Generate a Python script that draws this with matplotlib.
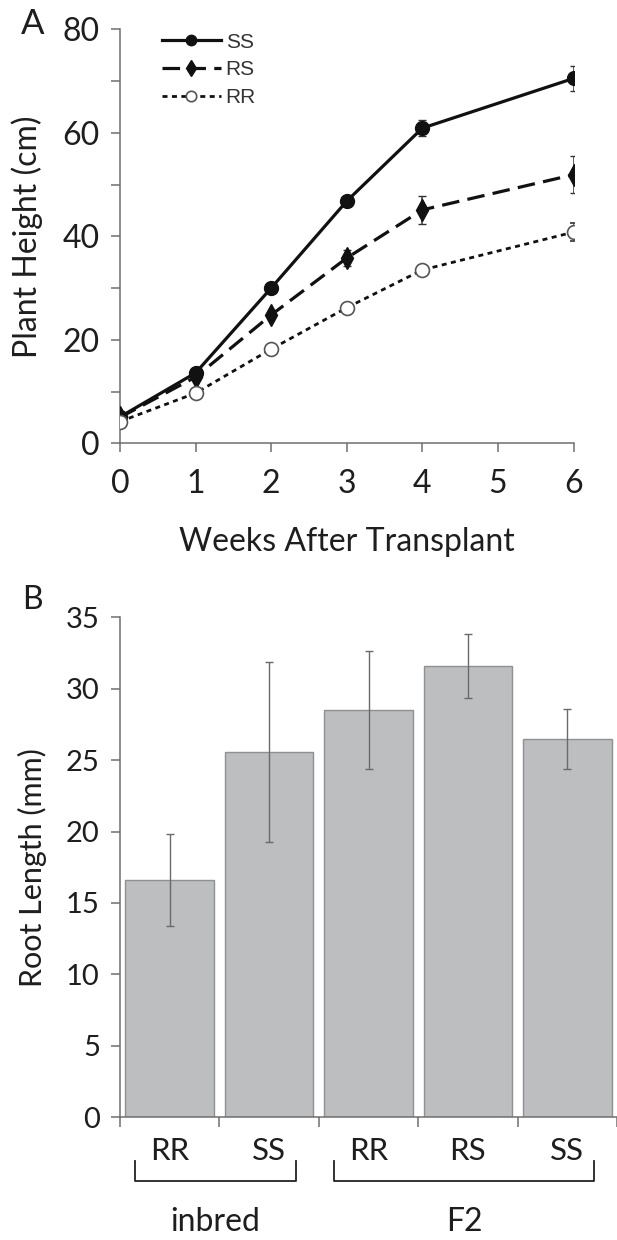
import matplotlib
matplotlib.use("Agg")
import matplotlib.pyplot as plt
import numpy as np

# panel A: plant height over time
weeks = [0, 1, 2, 3, 4, 6]
ss_height = [5.1, 13.6, 30.0, 46.8, 60.9, 70.5]
ss_err = [0.5, 0.6, 0.6, 0.7, 1.6, 2.4]
rs_height = [5.0, 12.8, 24.8, 35.8, 45.1, 51.9]
rs_err = [0.4, 0.6, 0.8, 1.5, 2.7, 3.6]
rr_height = [4.2, 9.7, 18.2, 26.2, 33.5, 40.8]
rr_err = [0.4, 0.5, 0.6, 0.6, 0.8, 1.8]

# panel B: root length
root_labels = ["RR", "SS", "RR", "RS", "SS"]
root_len = [16.6, 25.6, 28.5, 31.6, 26.5]
root_err = [3.2, 6.3, 4.15, 2.25, 2.1]
groups = [("inbred", 0, 1), ("F2", 2, 4)]

plt.rcParams["font.family"] = ["Lato", "DejaVu Sans"]
axcol = "#6f6f6f"
txtcol = "#1e1e1e"

fig = plt.figure(figsize=(6.17, 12.4), dpi=100)

# ---------- A ----------
ax = fig.add_axes([0.1945, 0.6425, 0.735, 0.3339])
c1 = ax.errorbar(weeks, ss_height, yerr=ss_err, color="#111111", lw=2.3, marker="o",
                 ms=10, mfc="#111111", mec="#111111", ecolor="#333333", elinewidth=1.1,
                 capsize=3, zorder=3)
c2 = ax.errorbar(weeks, rs_height, yerr=rs_err, color="#111111", lw=2.3, marker="d",
                 ms=11, mfc="#111111", mec="#111111", ecolor="#333333", elinewidth=1.1,
                 capsize=3, linestyle=(0, (5.5, 2.6)), zorder=3)
c3 = ax.errorbar(weeks, rr_height, yerr=rr_err, color="#111111", lw=2.0, marker="o",
                 ms=10, mfc="white", mec="#555555", mew=1.2, ecolor="#333333",
                 elinewidth=1.1, capsize=3, linestyle=(0, (1.8, 1.6)), zorder=3)

ax.set_xlim(0, 6)
ax.set_ylim(0, 80)
ax.set_xticks(range(0, 7))
ax.set_yticks([0, 20, 40, 60, 80])
ax.set_yticks([10, 30, 50, 70], minor=True)
for s in ["top", "right"]:
    ax.spines[s].set_visible(False)
for s in ["left", "bottom"]:
    ax.spines[s].set_color(axcol)
    ax.spines[s].set_linewidth(1.1)
ax.tick_params(which="both", color=axcol, width=1.1, length=6.5,
               labelsize=23, labelcolor=txtcol)
ax.tick_params(axis="y", pad=8)
ax.tick_params(axis="x", pad=12)
ax.set_xlabel("Weeks After Transplant", fontsize=23, color=txtcol, labelpad=20)
ax.set_ylabel("Plant Height (cm)", fontsize=23, color=txtcol)
ax.yaxis.set_label_coords(-0.17, 0.5)

leg = ax.legend(handles=[c1[0], c2[0], c3[0]], labels=["SS", "RS", "RR"],
                loc="upper left", bbox_to_anchor=(0.093, 0.992), frameon=False,
                prop={"family": "Liberation Sans", "size": 15},
                handlelength=2.8, handletextpad=0.25, labelspacing=0.42,
                borderpad=0, borderaxespad=0, markerscale=0.75)
for t in leg.get_texts():
    t.set_color("#333333")

fig.text(0.053, 0.981, "A", fontsize=25, color=txtcol, ha="center", va="center")

# ---------- B ----------
bx = fig.add_axes([0.1945, 0.099, 0.8055, 0.4032])
xpos = np.arange(len(root_len))
bx.bar(xpos, root_len, width=0.89, color="#bdbec0", edgecolor="#8f9092",
       linewidth=1.0, zorder=2)
bx.errorbar(xpos, root_len, yerr=root_err, fmt="none", ecolor="#6a6a6a",
            elinewidth=1.0, capsize=3, capthick=1.0, zorder=3)

bx.set_xlim(-0.5, 4.45)
bx.set_ylim(0, 35)
bx.set_yticks(range(0, 36, 5))
bx.set_xticks(xpos)
bx.set_xticklabels(root_labels)
bx.set_xticks(np.arange(-0.5, 4.6, 1.0), minor=True)
for s in ["top", "right"]:
    bx.spines[s].set_visible(False)
for s in ["left", "bottom"]:
    bx.spines[s].set_color(axcol)
    bx.spines[s].set_linewidth(1.1)
bx.tick_params(axis="y", color=axcol, width=1.1, length=6.5, labelsize=21,
               labelcolor=txtcol, pad=8)
bx.tick_params(axis="x", which="major", length=0, labelsize=22.5,
               labelcolor=txtcol, pad=14)
bx.tick_params(axis="x", which="minor", color=axcol, width=1.1, length=7)
bx.set_ylabel("Root Length (mm)", fontsize=22, color=txtcol)
bx.yaxis.set_label_coords(-0.146, 0.5)

trans = matplotlib.transforms.blended_transform_factory(bx.transData, bx.transAxes)
for name, i0, i1 in groups:
    x0 = xpos[i0] - 0.35
    x1 = xpos[i1] + 0.27
    y0, y1 = -0.087, -0.128
    bx.plot([x0, x0, x1, x1], [y0, y1, y1, y0], color="#222222", lw=1.3,
            transform=trans, clip_on=False, solid_joinstyle="round")
    bx.text((x0 + x1) / 2, -0.21, name, fontsize=23, color=txtcol,
            ha="center", va="center", transform=trans)

fig.text(0.053, 0.516, "B", fontsize=23, color=txtcol, ha="center", va="center")

fig.savefig("out.png", dpi=100)
